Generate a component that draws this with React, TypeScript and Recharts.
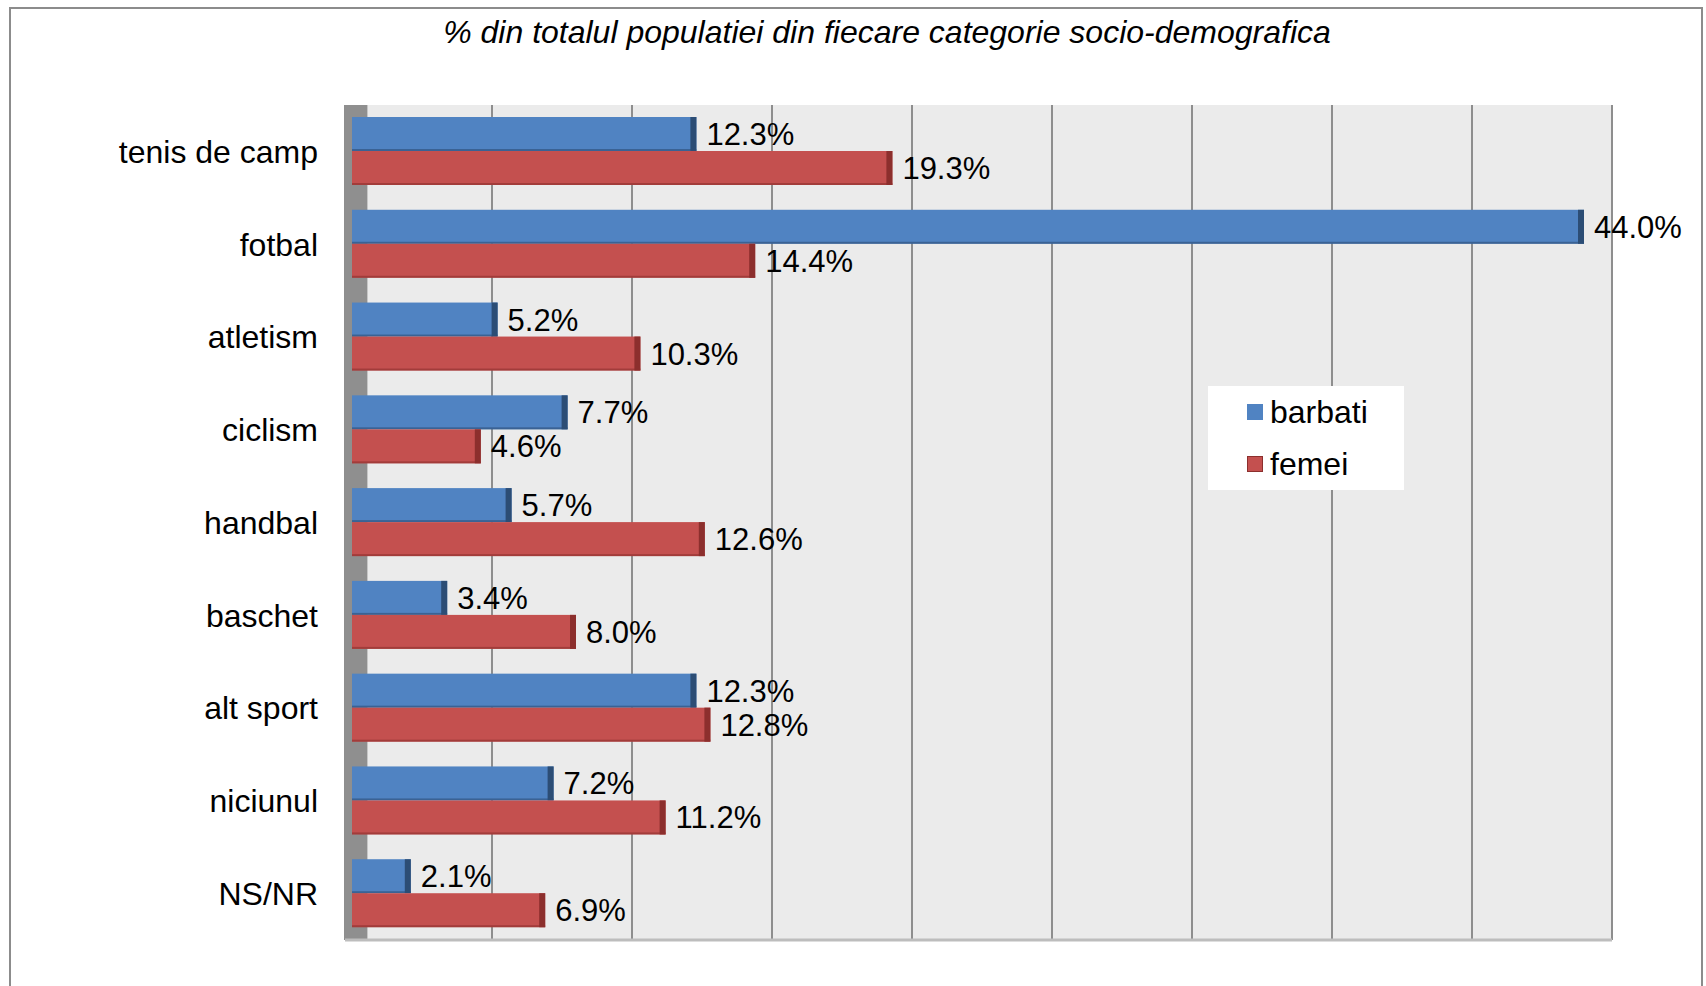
import {
  Bar,
  BarChart,
  CartesianGrid,
  LabelList,
  Legend,
  ReferenceArea,
  XAxis,
  YAxis,
} from "recharts";

const categories = [
  "tenis de camp",
  "fotbal",
  "atletism",
  "ciclism",
  "handbal",
  "baschet",
  "alt sport",
  "niciunul",
  "NS/NR",
];
const barbati = [12.3, 44.0, 5.2, 7.7, 5.7, 3.4, 12.3, 7.2, 2.1];
const femei = [19.3, 14.4, 10.3, 4.6, 12.6, 8.0, 12.8, 11.2, 6.9];
const xTicks = [0, 5, 10, 15, 20, 25, 30, 35, 40, 45];

const title = "% din totalul populatiei din fiecare categorie socio-demografica";
const FONT = "'Liberation Sans', Arial, sans-serif";

const BLUE = "#5083c2";
const BLUE_DARK = "#2c4d75";
const RED = "#c4504f";
const RED_DARK = "#8c2f2d";

const chartData = categories.map((name, i) => ({
  name,
  barbati: barbati[i],
  femei: femei[i],
}));

function make3dBar(main: string, dark: string) {
  return (props: any) => {
    const { x, y, width, height } = props;
    if (!width || width <= 0) return <g />;
    const cap = Math.min(6, width);
    return (
      <g>
        <rect x={x} y={y} width={width} height={height} fill={main} />
        <rect x={x} y={y + height - 2} width={width} height={2} fill={dark} opacity={0.6} />
        <rect x={x + width - cap} y={y} width={cap} height={height} fill={dark} />
      </g>
    );
  };
}

function fmt(v: any) {
  return `${Number(v).toFixed(1)}%`;
}

function LegendBox() {
  const item = (color: string, border: string, label: string) => (
    <div style={{ display: "flex", alignItems: "center", height: 52 }}>
      <span
        style={{
          width: 16,
          height: 16,
          background: color,
          border: `1px solid ${border}`,
          marginRight: 7,
          boxSizing: "border-box",
        }}
      />
      <span style={{ fontSize: 32, color: "#000" }}>{label}</span>
    </div>
  );
  return (
    <div
      style={{
        background: "#fff",
        width: 196,
        height: 104,
        boxSizing: "border-box",
        paddingLeft: 39,
        fontFamily: FONT,
      }}
    >
      {item(BLUE, BLUE, "barbati")}
      {item(RED, RED_DARK, "femei")}
    </div>
  );
}

export default function App() {
  return (
    <div
      style={{
        position: "absolute",
        left: 0,
        top: 0,
        width: 1706,
        height: 986,
        overflow: "hidden",
        background: "#fff",
        fontFamily: FONT,
      }}
    >
      <div
        style={{
          position: "absolute",
          left: 9,
          top: 7,
          width: 1694,
          height: 1000,
          border: "2px solid #8c8c8c",
          boxSizing: "border-box",
        }}
      />
      <div
        style={{
          position: "absolute",
          left: 0,
          top: 14,
          width: 1774,
          textAlign: "center",
          fontStyle: "italic",
          fontSize: 32,
          color: "#000",
        }}
      >
        {title}
      </div>
      <div style={{ position: "absolute", left: 0, top: 0 }}>
        <BarChart
          width={1706}
          height={986}
          data={chartData}
          layout="vertical"
          margin={{ top: 105, right: 94, bottom: 45, left: 45 }}
          barSize={34}
          barGap={0}
        >
          <CartesianGrid
            horizontal={false}
            stroke="#8e8e8e"
            strokeWidth={2}
            fill="#ebebeb"
          />
          <XAxis
            type="number"
            domain={[-0.25, 45]}
            ticks={xTicks}
            allowDataOverflow
            tick={() => <g />}
            tickLine={false}
            axisLine={{ stroke: "#bdbdbd", strokeWidth: 3 }}
            height={1}
          />
          <YAxis
            type="category"
            dataKey="name"
            width={300}
            tickLine={false}
            axisLine={false}
            tickSize={0}
            tickMargin={27}
            tick={{ fontSize: 32, fill: "#000", fontFamily: FONT }}
          />
          <ReferenceArea x1={-0.25} x2={0.55} fill="#8f8f8f" fillOpacity={1} stroke="none" ifOverflow="hidden" />
          <Legend
            layout="vertical"
            verticalAlign="middle"
            align="center"
            content={() => <LegendBox />}
            wrapperStyle={{ position: "absolute", left: 1208, top: 386, width: 196 }}
          />
          <Bar
            dataKey="barbati"
            name="barbati"
            fill={BLUE}
            shape={make3dBar(BLUE, BLUE_DARK)}
            isAnimationActive={false}
          >
            <LabelList
              dataKey="barbati"
              position="right"
              offset={10}
              formatter={fmt}
              style={{ fontSize: 31, fill: "#000", fontFamily: FONT }}
            />
          </Bar>
          <Bar
            dataKey="femei"
            name="femei"
            fill={RED}
            shape={make3dBar(RED, RED_DARK)}
            isAnimationActive={false}
          >
            <LabelList
              dataKey="femei"
              position="right"
              offset={10}
              formatter={fmt}
              style={{ fontSize: 31, fill: "#000", fontFamily: FONT }}
            />
          </Bar>
        </BarChart>
      </div>
    </div>
  );
}
